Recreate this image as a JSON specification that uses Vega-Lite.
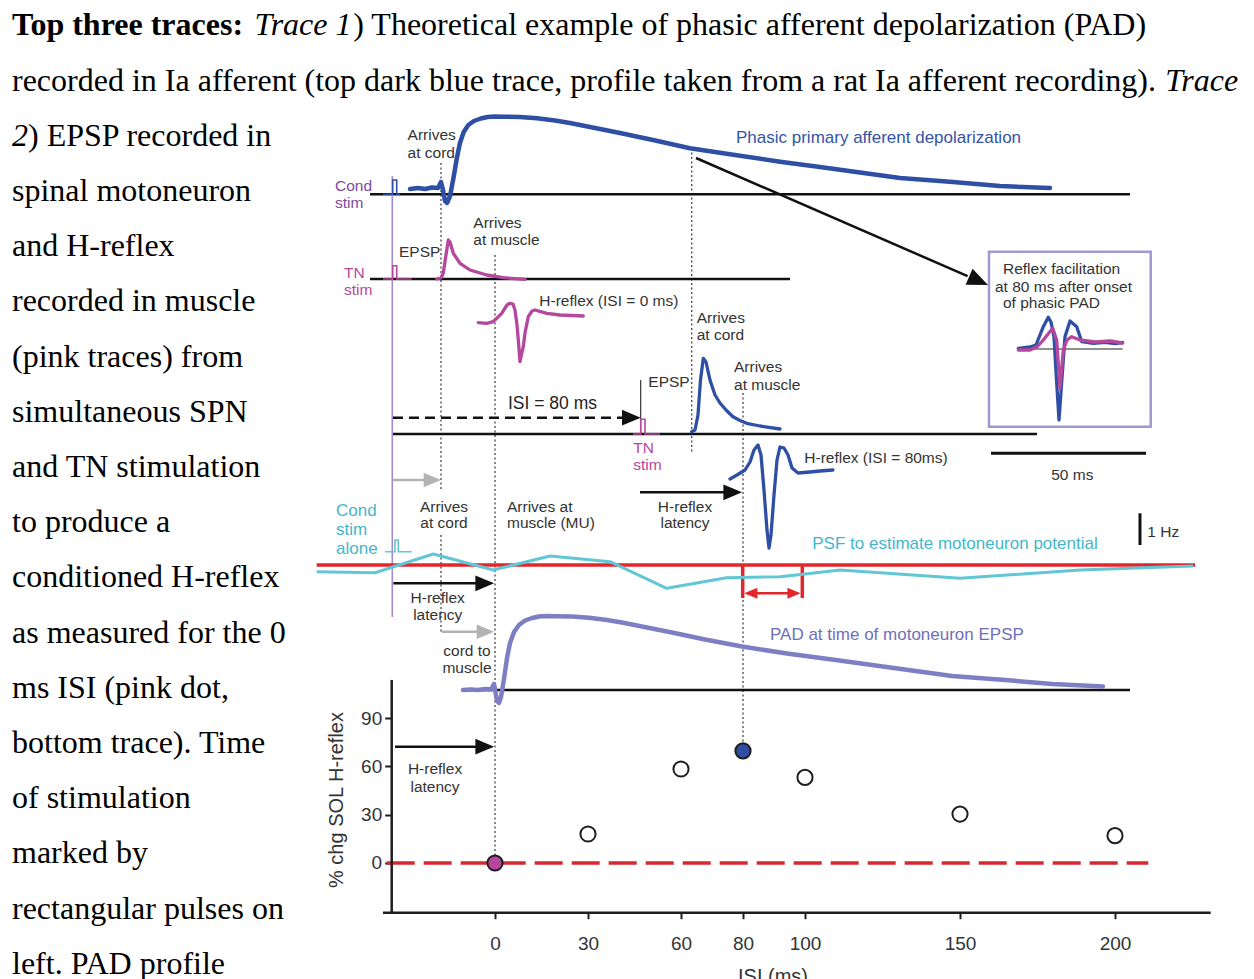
{
  "$schema": "https://vega.github.io/schema/vega-lite/v6.json",
  "width": 1254,
  "height": 979,
  "autosize": {"type": "none"},
  "padding": 0,
  "background": "#ffffff",
  "config": {"view": {"stroke": null}},
  "datasets": {
    "para": [
      {"line": 0, "x": 0, "text": "Top three traces:", "style": "b"},
      {"line": 0, "x": 0.19346, "text": "Trace 1", "style": "i"},
      {"line": 0, "x": 0.27214, "text": ") Theoretical example of phasic afferent depolarization (PAD)", "style": "r"},
      {"line": 1, "x": 0, "text": "recorded in Ia afferent (top dark blue trace, profile taken from a rat Ia afferent recording).", "style": "r"},
      {"line": 1, "x": 0.9197, "text": "Trace", "style": "i"},
      {"line": 2, "x": 0, "text": "2", "style": "i"},
      {"line": 2, "x": 0.01276, "text": ") EPSP recorded in", "style": "r"},
      {"line": 3, "x": 0, "text": "spinal motoneuron", "style": "r"},
      {"line": 4, "x": 0, "text": "and H-reflex", "style": "r"},
      {"line": 5, "x": 0, "text": "recorded in muscle", "style": "r"},
      {"line": 6, "x": 0, "text": "(pink traces) from", "style": "r"},
      {"line": 7, "x": 0, "text": "simultaneous SPN", "style": "r"},
      {"line": 8, "x": 0, "text": "and TN stimulation", "style": "r"},
      {"line": 9, "x": 0, "text": "to produce a", "style": "r"},
      {"line": 10, "x": 0, "text": "conditioned H-reflex", "style": "r"},
      {"line": 11, "x": 0, "text": "as measured for the 0", "style": "r"},
      {"line": 12, "x": 0, "text": "ms ISI (pink dot,", "style": "r"},
      {"line": 13, "x": 0, "text": "bottom trace). Time", "style": "r"},
      {"line": 14, "x": 0, "text": "of stimulation", "style": "r"},
      {"line": 15, "x": 0, "text": "marked by", "style": "r"},
      {"line": 16, "x": 0, "text": "rectangular pulses on", "style": "r"},
      {"line": 17, "x": 0, "text": "left. PAD profile", "style": "r"}
    ],
    "traces": [
      {"s": "pad1", "t": -27.42, "u": 79.0}, {"s": "pad1", "t": -24.84, "u": 79.1}, {"s": "pad1", "t": -22.58, "u": 79.0},
      {"s": "pad1", "t": -20.32, "u": 79.15}, {"s": "pad1", "t": -18.39, "u": 79.1}, {"s": "pad1", "t": -17.42, "u": 79.7},
      {"s": "pad1", "t": -16.77, "u": 78.9}, {"s": "pad1", "t": -16.13, "u": 77.8}, {"s": "pad1", "t": -15.48, "u": 77.6},
      {"s": "pad1", "t": -14.5, "u": 78.3}, {"s": "pad1", "t": -13.4, "u": 80.1}, {"s": "pad1", "t": -12.3, "u": 82.1},
      {"s": "pad1", "t": -11.3, "u": 83.6}, {"s": "pad1", "t": -10.1, "u": 84.7}, {"s": "pad1", "t": -8.6, "u": 85.4},
      {"s": "pad1", "t": -6.8, "u": 85.8}, {"s": "pad1", "t": -4.6, "u": 86.05}, {"s": "pad1", "t": -2.4, "u": 86.2},
      {"s": "pad1", "t": 0, "u": 86.25}, {"s": "pad1", "t": 2.58, "u": 86.23}, {"s": "pad1", "t": 8.06, "u": 86.2},
      {"s": "pad1", "t": 13.55, "u": 86.07}, {"s": "pad1", "t": 19.35, "u": 85.85}, {"s": "pad1", "t": 24.19, "u": 85.6},
      {"s": "pad1", "t": 32.26, "u": 85.1}, {"s": "pad1", "t": 40.32, "u": 84.6}, {"s": "pad1", "t": 50.97, "u": 83.9},
      {"s": "pad1", "t": 62.9, "u": 83.07}, {"s": "pad1", "t": 77.42, "u": 82.4}, {"s": "pad1", "t": 91.94, "u": 81.73},
      {"s": "pad1", "t": 104.84, "u": 81.2}, {"s": "pad1", "t": 117.74, "u": 80.65}, {"s": "pad1", "t": 130.65, "u": 80.1},
      {"s": "pad1", "t": 146.77, "u": 79.73}, {"s": "pad1", "t": 162.9, "u": 79.3}, {"s": "pad1", "t": 179.03, "u": 79.1},

      {"s": "epsp0", "t": -18.81, "u": 70.0}, {"s": "epsp0", "t": -17.42, "u": 70.1}, {"s": "epsp0", "t": -16.68, "u": 70.6},
      {"s": "epsp0", "t": -15.81, "u": 72.4}, {"s": "epsp0", "t": -15.06, "u": 73.9}, {"s": "epsp0", "t": -14.52, "u": 73.7},
      {"s": "epsp0", "t": -13.45, "u": 72.57}, {"s": "epsp0", "t": -11.29, "u": 71.57}, {"s": "epsp0", "t": -8.06, "u": 70.9},
      {"s": "epsp0", "t": -2.68, "u": 70.4}, {"s": "epsp0", "t": 2.68, "u": 70.13}, {"s": "epsp0", "t": 9.68, "u": 69.97},

      {"s": "h0", "t": -5.39, "u": 65.63}, {"s": "h0", "t": -2.68, "u": 65.57}, {"s": "h0", "t": -0.55, "u": 65.73},
      {"s": "h0", "t": 2.16, "u": 66.57}, {"s": "h0", "t": 3.87, "u": 67.4}, {"s": "h0", "t": 4.84, "u": 67.57},
      {"s": "h0", "t": 5.81, "u": 67.5}, {"s": "h0", "t": 6.45, "u": 66.9}, {"s": "h0", "t": 7.1, "u": 65.4},
      {"s": "h0", "t": 7.52, "u": 63.9}, {"s": "h0", "t": 8.06, "u": 61.73}, {"s": "h0", "t": 8.71, "u": 62.7},
      {"s": "h0", "t": 9.13, "u": 63.23}, {"s": "h0", "t": 9.68, "u": 64.6}, {"s": "h0", "t": 10.74, "u": 66.23},
      {"s": "h0", "t": 11.94, "u": 66.8}, {"s": "h0", "t": 12.9, "u": 66.9}, {"s": "h0", "t": 16.68, "u": 66.57},
      {"s": "h0", "t": 20.97, "u": 66.4}, {"s": "h0", "t": 24.84, "u": 66.35}, {"s": "h0", "t": 28.48, "u": 66.3},

      {"s": "epsp80", "t": 63.45, "u": 54.73}, {"s": "epsp80", "t": 64.52, "u": 54.9}, {"s": "epsp80", "t": 65.48, "u": 56.4},
      {"s": "epsp80", "t": 66.29, "u": 59.9}, {"s": "epsp80", "t": 67.19, "u": 62.07}, {"s": "epsp80", "t": 68.06, "u": 61.7},
      {"s": "epsp80", "t": 69.35, "u": 59.9}, {"s": "epsp80", "t": 70.97, "u": 58.4}, {"s": "epsp80", "t": 72.58, "u": 57.6},
      {"s": "epsp80", "t": 74.52, "u": 56.9}, {"s": "epsp80", "t": 76.77, "u": 56.23}, {"s": "epsp80", "t": 79.03, "u": 55.85},
      {"s": "epsp80", "t": 81.19, "u": 55.57}, {"s": "epsp80", "t": 85.48, "u": 55.3}, {"s": "epsp80", "t": 91.94, "u": 55.0},

      {"s": "h80", "t": 75.81, "u": 50.0}, {"s": "h80", "t": 78.06, "u": 50.4}, {"s": "h80", "t": 80.65, "u": 50.9},
      {"s": "h80", "t": 82.26, "u": 51.7}, {"s": "h80", "t": 83.55, "u": 52.9}, {"s": "h80", "t": 84.84, "u": 53.4},
      {"s": "h80", "t": 85.81, "u": 52.4}, {"s": "h80", "t": 86.77, "u": 48.9}, {"s": "h80", "t": 87.74, "u": 44.9},
      {"s": "h80", "t": 88.39, "u": 43.1}, {"s": "h80", "t": 89.03, "u": 44.4}, {"s": "h80", "t": 90.0, "u": 48.4},
      {"s": "h80", "t": 90.97, "u": 51.9}, {"s": "h80", "t": 91.94, "u": 53.2}, {"s": "h80", "t": 93.23, "u": 53.1},
      {"s": "h80", "t": 94.52, "u": 52.4}, {"s": "h80", "t": 95.81, "u": 51.1}, {"s": "h80", "t": 97.74, "u": 50.6},
      {"s": "h80", "t": 101.61, "u": 50.7}, {"s": "h80", "t": 104.84, "u": 50.8}, {"s": "h80", "t": 109.03, "u": 50.9},

      {"s": "inB", "t": 168.81, "u": 63.07}, {"s": "inB", "t": 172.58, "u": 63.2}, {"s": "inB", "t": 174.52, "u": 63.4},
      {"s": "inB", "t": 176.87, "u": 65.23}, {"s": "inB", "t": 178.48, "u": 66.17}, {"s": "inB", "t": 179.35, "u": 65.7},
      {"s": "inB", "t": 180.32, "u": 64.23}, {"s": "inB", "t": 181.13, "u": 59.9}, {"s": "inB", "t": 181.94, "u": 55.9},
      {"s": "inB", "t": 182.74, "u": 59.4}, {"s": "inB", "t": 183.87, "u": 64.23}, {"s": "inB", "t": 185.48, "u": 65.8},
      {"s": "inB", "t": 187.65, "u": 65.23}, {"s": "inB", "t": 189.26, "u": 63.73}, {"s": "inB", "t": 193.0, "u": 63.57},
      {"s": "inB", "t": 196.77, "u": 63.67}, {"s": "inB", "t": 200.0, "u": 63.55}, {"s": "inB", "t": 202.48, "u": 63.65},

      {"s": "inP", "t": 168.81, "u": 62.9}, {"s": "inP", "t": 172.58, "u": 62.9}, {"s": "inP", "t": 174.84, "u": 63.2},
      {"s": "inP", "t": 176.87, "u": 63.9}, {"s": "inP", "t": 179.9, "u": 65.07}, {"s": "inP", "t": 181.19, "u": 63.9},
      {"s": "inP", "t": 182.26, "u": 59.07}, {"s": "inP", "t": 183.32, "u": 62.9}, {"s": "inP", "t": 184.52, "u": 63.9},
      {"s": "inP", "t": 186.03, "u": 64.23}, {"s": "inP", "t": 188.71, "u": 63.9}, {"s": "inP", "t": 193.55, "u": 63.7},
      {"s": "inP", "t": 198.39, "u": 63.8}, {"s": "inP", "t": 202.48, "u": 63.6},

      {"s": "pad2", "t": -10.32, "u": 28.9}, {"s": "pad2", "t": -7.74, "u": 28.95}, {"s": "pad2", "t": -5.48, "u": 28.9},
      {"s": "pad2", "t": -3.23, "u": 29.0}, {"s": "pad2", "t": -1.29, "u": 28.95}, {"s": "pad2", "t": -0.32, "u": 29.5},
      {"s": "pad2", "t": 0.16, "u": 28.7}, {"s": "pad2", "t": 0.65, "u": 27.8}, {"s": "pad2", "t": 1.29, "u": 27.6},
      {"s": "pad2", "t": 1.94, "u": 28.2}, {"s": "pad2", "t": 2.9, "u": 30.0}, {"s": "pad2", "t": 3.87, "u": 32.1},
      {"s": "pad2", "t": 4.84, "u": 33.6}, {"s": "pad2", "t": 6.13, "u": 34.7}, {"s": "pad2", "t": 7.74, "u": 35.4},
      {"s": "pad2", "t": 9.68, "u": 35.85}, {"s": "pad2", "t": 11.94, "u": 36.1}, {"s": "pad2", "t": 14.19, "u": 36.25},
      {"s": "pad2", "t": 16.77, "u": 36.3}, {"s": "pad2", "t": 19.35, "u": 36.28}, {"s": "pad2", "t": 24.84, "u": 36.25},
      {"s": "pad2", "t": 30.32, "u": 36.12}, {"s": "pad2", "t": 36.13, "u": 35.9}, {"s": "pad2", "t": 40.97, "u": 35.65},
      {"s": "pad2", "t": 49.03, "u": 35.15}, {"s": "pad2", "t": 57.1, "u": 34.65}, {"s": "pad2", "t": 67.74, "u": 33.95},
      {"s": "pad2", "t": 79.68, "u": 33.25}, {"s": "pad2", "t": 94.19, "u": 32.55}, {"s": "pad2", "t": 108.71, "u": 31.95},
      {"s": "pad2", "t": 121.61, "u": 31.4}, {"s": "pad2", "t": 134.52, "u": 30.85}, {"s": "pad2", "t": 147.42, "u": 30.3},
      {"s": "pad2", "t": 163.55, "u": 29.93}, {"s": "pad2", "t": 179.68, "u": 29.5}, {"s": "pad2", "t": 196.13, "u": 29.25},

      {"s": "psf", "t": -57.52, "u": 40.73}, {"s": "psf", "t": -38.71, "u": 40.63}, {"s": "psf", "t": -19.9, "u": 42.5},
      {"s": "psf", "t": -0.55, "u": 40.9}, {"s": "psf", "t": 17.74, "u": 42.3}, {"s": "psf", "t": 37.1, "u": 41.73},
      {"s": "psf", "t": 55.39, "u": 39.07}, {"s": "psf", "t": 74.74, "u": 40.13}, {"s": "psf", "t": 91.94, "u": 40.23},
      {"s": "psf", "t": 99.45, "u": 40.47}, {"s": "psf", "t": 111.29, "u": 40.9}, {"s": "psf", "t": 150.0, "u": 40.07},
      {"s": "psf", "t": 188.71, "u": 40.9}, {"s": "psf", "t": 225.26, "u": 41.3},

      {"s": "pC", "t": -36.13, "u": 78.47}, {"s": "pC", "t": -33.0, "u": 78.47}, {"s": "pC", "t": -33.0, "u": 79.9},
      {"s": "pC", "t": -31.71, "u": 79.9}, {"s": "pC", "t": -31.71, "u": 78.47}, {"s": "pC", "t": -30.65, "u": 78.47},
      {"s": "pT0", "t": -36.13, "u": 70.0}, {"s": "pT0", "t": -33.0, "u": 70.0}, {"s": "pT0", "t": -33.0, "u": 71.33},
      {"s": "pT0", "t": -31.71, "u": 71.33}, {"s": "pT0", "t": -31.71, "u": 70.0}, {"s": "pT0", "t": -26.87, "u": 70.0},
      {"s": "pT80", "t": 44.52, "u": 54.5}, {"s": "pT80", "t": 47.0, "u": 54.5}, {"s": "pT80", "t": 47.0, "u": 55.97},
      {"s": "pT80", "t": 48.39, "u": 55.97}, {"s": "pT80", "t": 48.39, "u": 54.5}, {"s": "pT80", "t": 53.23, "u": 54.5},
      {"s": "pA", "t": -35.48, "u": 42.73}, {"s": "pA", "t": -32.26, "u": 42.73}, {"s": "pA", "t": -32.26, "u": 43.9},
      {"s": "pA", "t": -31.19, "u": 43.9}, {"s": "pA", "t": -31.19, "u": 42.73}, {"s": "pA", "t": -26.87, "u": 42.73}
    ],
    "segs": [
      {"kind": "base", "t": -40.32, "t2": 204.84, "u": 78.47, "u2": 78.47},
      {"kind": "base", "t": -40.32, "t2": 95.16, "u": 70.0, "u2": 70.0},
      {"kind": "base", "t": -33.0, "t2": 174.84, "u": 54.5, "u2": 54.5},
      {"kind": "base", "t": -10.32, "t2": 204.84, "u": 28.9, "u2": 28.9},
      {"kind": "dot", "t": -17.42, "t2": -17.42, "u": 81.6, "u2": 48.9},
      {"kind": "dot", "t": -17.42, "t2": -17.42, "u": 44.4, "u2": 34.7},
      {"kind": "dot", "t": 0, "t2": 0, "u": 72.4, "u2": 12.4},
      {"kind": "dot", "t": 63.45, "t2": 63.45, "u": 83.1, "u2": 52.6},
      {"kind": "dot", "t": 80, "t2": 80, "u": 58.6, "u2": 23.7},
      {"kind": "stim", "t": -33.13, "t2": -33.13, "u": 80.3, "u2": 36.2},
      {"kind": "mark", "t": 47.0, "t2": 47.0, "u": 59.9, "u2": 54.5},
      {"kind": "bar", "t": 160, "t2": 210, "u": 52.57, "u2": 52.57},
      {"kind": "bar", "t": 208.06, "t2": 208.06, "u": 46.57, "u2": 43.4},
      {"kind": "thin", "t": 173.55, "t2": 202.48, "u": 63.0, "u2": 63.0},
      {"kind": "red", "t": -57.52, "t2": 225.81, "u": 41.4, "u2": 41.4},
      {"kind": "red", "t": 79.9, "t2": 79.9, "u": 41.4, "u2": 38.1},
      {"kind": "red", "t": 99.13, "t2": 99.13, "u": 41.4, "u2": 38.1},
      {"kind": "redarrow", "t": 81.5, "t2": 97.5, "u": 38.57, "u2": 38.57},
      {"kind": "dash", "t": -32.9, "t2": 43.0, "u": 56.13, "u2": 56.13},
      {"kind": "arrow", "t": 46.77, "t2": 75.0, "u": 48.67, "u2": 48.67},
      {"kind": "arrow", "t": -32.81, "t2": -4.5, "u": 39.57, "u2": 39.57},
      {"kind": "arrow", "t": -32.26, "t2": -4.5, "u": 23.23, "u2": 23.23},
      {"kind": "arrow", "t": 64.84, "t2": 152.45, "u": 82.1, "u2": 70.29},
      {"kind": "gray", "t": -33.0, "t2": -21.0, "u": 49.9, "u2": 49.9},
      {"kind": "gray", "t": -17.19, "t2": -4.0, "u": 34.73, "u2": 34.73}
    ],
    "box": [{"t": 159.35, "t2": 211.52, "u": 72.73, "u2": 55.23}],
    "heads": [
      {"kind": "black", "dir": "r", "t": 47.0, "u": 56.13},
      {"kind": "black", "dir": "r", "t": 79.7, "u": 48.67},
      {"kind": "black", "dir": "r", "t": -0.3, "u": 39.57},
      {"kind": "black", "dir": "r", "t": -0.3, "u": 23.23},
      {"kind": "black", "dir": "d", "t": 159.03, "u": 69.4},
      {"kind": "gray", "dir": "r", "t": -17.42, "u": 49.9},
      {"kind": "gray", "dir": "r", "t": -0.3, "u": 34.73},
      {"kind": "red", "dir": "r", "t": 98.6, "u": 38.57},
      {"kind": "red", "dir": "l", "t": 80.4, "u": 38.57}
    ],
    "labels": [
      {"kind": "n", "t": -28.2, "u": 84.4, "text": "Arrives"},
      {"kind": "n", "t": -28.2, "u": 82.63, "text": "at cord"},
      {"kind": "n", "t": -30.97, "u": 72.73, "text": "EPSP"},
      {"kind": "n", "t": -7.0, "u": 75.57, "text": "Arrives"},
      {"kind": "n", "t": -7.0, "u": 73.9, "text": "at muscle"},
      {"kind": "n", "t": 14.29, "u": 67.83, "text": "H-reflex (ISI = 0 ms)"},
      {"kind": "n", "t": 65.06, "u": 66.07, "text": "Arrives"},
      {"kind": "n", "t": 65.06, "u": 64.4, "text": "at cord"},
      {"kind": "n", "t": 77.1, "u": 61.17, "text": "Arrives"},
      {"kind": "n", "t": 77.1, "u": 59.4, "text": "at muscle"},
      {"kind": "n", "t": 49.45, "u": 59.73, "text": "EPSP"},
      {"kind": "n", "t": 99.77, "u": 52.13, "text": "H-reflex (ISI = 80ms)"},
      {"kind": "n", "t": 3.87, "u": 47.23, "text": "Arrives at"},
      {"kind": "n", "t": 3.87, "u": 45.57, "text": "muscle (MU)"},
      {"kind": "n", "t": 210.42, "u": 44.73, "text": "1 Hz"},
      {"kind": "n", "t": 163.87, "u": 71.0, "text": "Reflex facilitation"},
      {"kind": "n", "t": 161.29, "u": 69.23, "text": "at 80 ms after onset"},
      {"kind": "n", "t": 163.87, "u": 67.6, "text": "of phasic PAD"},
      {"kind": "c", "t": 186.23, "u": 50.4, "text": "50 ms"},
      {"kind": "c", "t": -16.45, "u": 47.23, "text": "Arrives"},
      {"kind": "c", "t": -16.45, "u": 45.57, "text": "at cord"},
      {"kind": "c", "t": 61.29, "u": 47.23, "text": "H-reflex"},
      {"kind": "c", "t": 61.29, "u": 45.57, "text": "latency"},
      {"kind": "c", "t": -18.48, "u": 38.13, "text": "H-reflex"},
      {"kind": "c", "t": -18.48, "u": 36.4, "text": "latency"},
      {"kind": "c", "t": -9.03, "u": 32.83, "text": "cord to"},
      {"kind": "c", "t": -9.03, "u": 31.07, "text": "muscle"},
      {"kind": "c", "t": -19.35, "u": 21.0, "text": "H-reflex"},
      {"kind": "c", "t": -19.35, "u": 19.23, "text": "latency"},
      {"kind": "b", "t": 4.19, "u": 57.5, "text": "ISI = 80 ms"},
      {"kind": "p", "t": -51.61, "u": 79.3, "text": "Cond"},
      {"kind": "p", "t": -51.61, "u": 77.63, "text": "stim"},
      {"kind": "k", "t": -48.71, "u": 70.57, "text": "TN"},
      {"kind": "k", "t": -48.71, "u": 68.9, "text": "stim"},
      {"kind": "k", "t": 44.61, "u": 53.07, "text": "TN"},
      {"kind": "k", "t": 44.61, "u": 51.4, "text": "stim"},
      {"kind": "h", "t": 77.74, "u": 84.1, "text": "Phasic primary afferent depolarization"},
      {"kind": "y", "t": -51.29, "u": 46.8, "text": "Cond"},
      {"kind": "y", "t": -51.29, "u": 44.9, "text": "stim"},
      {"kind": "y", "t": -51.29, "u": 42.97, "text": "alone"},
      {"kind": "y", "t": 102.35, "u": 43.5, "text": "PSF to estimate motoneuron potential"},
      {"kind": "l", "t": 88.71, "u": 34.4, "text": "PAD at time of motoneuron EPSP"}
    ],
    "isi": [
      {"isi": 0, "pct": 0, "kind": "c0"},
      {"isi": 30, "pct": 18, "kind": "o"},
      {"isi": 60, "pct": 58.4, "kind": "o"},
      {"isi": 80, "pct": 69.6, "kind": "c80"},
      {"isi": 100, "pct": 53.2, "kind": "o"},
      {"isi": 150, "pct": 30.4, "kind": "o"},
      {"isi": 200, "pct": 17, "kind": "o"}
    ],
    "guides": [
      {"kind": "zero", "isi": -34.94, "isi2": 210.74, "pct": 0, "pct2": 0},
      {"kind": "axis", "isi": -36.13, "isi2": 230.87, "pct": -30.9, "pct2": -30.9},
      {"kind": "axis", "isi": -33.32, "isi2": -33.32, "pct": -30.9, "pct2": 113.7}
    ],
    "axtitles": [
      {"kind": "y", "isi": -51.06, "pct": 39.13, "text": "% chg SOL H-reflex"},
      {"kind": "x", "isi": 89.68, "pct": -64.3, "text": "ISI (ms)"}
    ]
  },
  "layer": [
    {
      "data": {"name": "para"},
      "encoding": {
        "x": {"field": "x", "type": "quantitative", "scale": {"domain": [-0.00957, 0.99043], "nice": false, "zero": false}, "axis": null},
        "y": {"field": "line", "type": "quantitative", "scale": {"domain": [-0.6431, 17.0924], "reverse": true, "nice": false, "zero": false}, "axis": null},
        "text": {"field": "text"}
      },
      "layer": [
        {"transform": [{"filter": "datum.style === 'r'"}], "mark": {"type": "text", "align": "left", "baseline": "alphabetic", "font": "Liberation Serif", "fontSize": 32, "color": "#000000"}},
        {"transform": [{"filter": "datum.style === 'b'"}], "mark": {"type": "text", "align": "left", "baseline": "alphabetic", "font": "Liberation Serif", "fontSize": 32, "fontWeight": "bold", "color": "#000000"}},
        {"transform": [{"filter": "datum.style === 'i'"}], "mark": {"type": "text", "align": "left", "baseline": "alphabetic", "font": "Liberation Serif", "fontSize": 32, "fontStyle": "italic", "color": "#000000"}}
      ]
    },
    {
      "encoding": {
        "x": {"field": "t", "type": "quantitative", "scale": {"domain": [-159.677, 244.839], "nice": false, "zero": false}, "axis": null},
        "y": {"field": "u", "type": "quantitative", "scale": {"domain": [0, 97.9], "nice": false, "zero": false}, "axis": null}
      },
      "layer": [
        {"data": {"name": "box"}, "mark": {"type": "rect", "fill": "#ffffff", "stroke": "#9e9ad0", "strokeWidth": 2.5}, "encoding": {"x2": {"field": "t2"}, "y2": {"field": "u2"}}},
        {"data": {"name": "segs"}, "transform": [{"filter": "datum.kind === 'dot'"}], "mark": {"type": "rule", "color": "#444444", "strokeWidth": 1.3, "strokeDash": [2, 2.5]}, "encoding": {"x2": {"field": "t2"}, "y2": {"field": "u2"}}},
        {"data": {"name": "segs"}, "transform": [{"filter": "datum.kind === 'base' || datum.kind === 'arrow'"}], "mark": {"type": "rule", "color": "#111111", "strokeWidth": 2.5}, "encoding": {"x2": {"field": "t2"}, "y2": {"field": "u2"}}},
        {"data": {"name": "segs"}, "transform": [{"filter": "datum.kind === 'bar'"}], "mark": {"type": "rule", "color": "#111111", "strokeWidth": 3}, "encoding": {"x2": {"field": "t2"}, "y2": {"field": "u2"}}},
        {"data": {"name": "segs"}, "transform": [{"filter": "datum.kind === 'thin' || datum.kind === 'mark'"}], "mark": {"type": "rule", "color": "#222222", "strokeWidth": 1.1}, "encoding": {"x2": {"field": "t2"}, "y2": {"field": "u2"}}},
        {"data": {"name": "segs"}, "transform": [{"filter": "datum.kind === 'stim'"}], "mark": {"type": "rule", "color": "#a48bc9", "strokeWidth": 1.6}, "encoding": {"x2": {"field": "t2"}, "y2": {"field": "u2"}}},
        {"data": {"name": "segs"}, "transform": [{"filter": "datum.kind === 'dash'"}], "mark": {"type": "rule", "color": "#111111", "strokeWidth": 2.5, "strokeDash": [10, 6]}, "encoding": {"x2": {"field": "t2"}, "y2": {"field": "u2"}}},
        {"data": {"name": "segs"}, "transform": [{"filter": "datum.kind === 'gray'"}], "mark": {"type": "rule", "color": "#b3b3b3", "strokeWidth": 2.5}, "encoding": {"x2": {"field": "t2"}, "y2": {"field": "u2"}}},
        {"data": {"name": "segs"}, "transform": [{"filter": "datum.kind === 'red'"}], "mark": {"type": "rule", "color": "#e3262b", "strokeWidth": 3.5}, "encoding": {"x2": {"field": "t2"}, "y2": {"field": "u2"}}},
        {"data": {"name": "segs"}, "transform": [{"filter": "datum.kind === 'redarrow'"}], "mark": {"type": "rule", "color": "#e3262b", "strokeWidth": 2.5}, "encoding": {"x2": {"field": "t2"}, "y2": {"field": "u2"}}},
        {
          "data": {"name": "traces"},
          "transform": [{"filter": {"field": "s", "oneOf": ["pC", "pT0", "pT80", "pA"]}}],
          "mark": {"type": "line", "strokeWidth": 1.6, "strokeJoin": "miter"},
          "encoding": {
            "detail": {"field": "s"},
            "order": {"value": null},
            "color": {"field": "s", "type": "nominal", "legend": null, "scale": {"domain": ["pad1", "epsp80", "h80", "inB", "pC", "epsp0", "h0", "inP", "pT0", "pT80", "pad2", "psf", "pA"], "range": ["#2e4fa3", "#2e4fa3", "#2e4fa3", "#2e4fa3", "#2e4fa3", "#b5479d", "#b5479d", "#b5479d", "#b5479d", "#b5479d", "#7e7ec4", "#62c6d4", "#62c6d4"]}}
          }
        },
        {
          "data": {"name": "traces"},
          "transform": [{"filter": {"field": "s", "oneOf": ["psf"]}}],
          "mark": {"type": "line", "strokeWidth": 3, "strokeJoin": "round"},
          "encoding": {
            "detail": {"field": "s"},
            "order": {"value": null},
            "color": {"field": "s", "type": "nominal", "legend": null, "scale": {"domain": ["pad1", "epsp80", "h80", "inB", "pC", "epsp0", "h0", "inP", "pT0", "pT80", "pad2", "psf", "pA"], "range": ["#2e4fa3", "#2e4fa3", "#2e4fa3", "#2e4fa3", "#2e4fa3", "#b5479d", "#b5479d", "#b5479d", "#b5479d", "#b5479d", "#7e7ec4", "#62c6d4", "#62c6d4"]}}
          }
        },
        {
          "data": {"name": "traces"},
          "transform": [{"filter": {"field": "s", "oneOf": ["pad1", "pad2"]}}],
          "mark": {"type": "line", "strokeWidth": 4.5, "strokeJoin": "round", "strokeCap": "round"},
          "encoding": {
            "detail": {"field": "s"},
            "order": {"value": null},
            "color": {"field": "s", "type": "nominal", "legend": null, "scale": {"domain": ["pad1", "epsp80", "h80", "inB", "pC", "epsp0", "h0", "inP", "pT0", "pT80", "pad2", "psf", "pA"], "range": ["#2e4fa3", "#2e4fa3", "#2e4fa3", "#2e4fa3", "#2e4fa3", "#b5479d", "#b5479d", "#b5479d", "#b5479d", "#b5479d", "#7e7ec4", "#62c6d4", "#62c6d4"]}}
          }
        },
        {
          "data": {"name": "traces"},
          "transform": [{"filter": {"field": "s", "oneOf": ["epsp80", "h80", "inB", "epsp0", "h0", "inP"]}}],
          "mark": {"type": "line", "strokeWidth": 3.3, "strokeJoin": "round", "strokeCap": "round"},
          "encoding": {
            "detail": {"field": "s"},
            "order": {"value": null},
            "color": {"field": "s", "type": "nominal", "legend": null, "scale": {"domain": ["pad1", "epsp80", "h80", "inB", "pC", "epsp0", "h0", "inP", "pT0", "pT80", "pad2", "psf", "pA"], "range": ["#2e4fa3", "#2e4fa3", "#2e4fa3", "#2e4fa3", "#2e4fa3", "#b5479d", "#b5479d", "#b5479d", "#b5479d", "#b5479d", "#7e7ec4", "#62c6d4", "#62c6d4"]}}
          }
        },
        {"data": {"name": "heads"}, "transform": [{"filter": "datum.kind === 'black' && datum.dir === 'r'"}], "mark": {"type": "point", "shape": "M0,0L-1,-0.42L-1,0.42Z", "filled": true, "color": "#111111", "opacity": 1, "size": 1400}},
        {"data": {"name": "heads"}, "transform": [{"filter": "datum.kind === 'black' && datum.dir === 'd'"}], "mark": {"type": "point", "shape": "M0,0L-1,-0.42L-1,0.42Z", "filled": true, "color": "#111111", "opacity": 1, "size": 1700, "angle": 23.5}},
        {"data": {"name": "heads"}, "transform": [{"filter": "datum.kind === 'gray'"}], "mark": {"type": "point", "shape": "M0,0L-1,-0.42L-1,0.42Z", "filled": true, "color": "#b3b3b3", "opacity": 1, "size": 1200}},
        {"data": {"name": "heads"}, "transform": [{"filter": "datum.kind === 'red' && datum.dir === 'r'"}], "mark": {"type": "point", "shape": "M0,0L-1,-0.42L-1,0.42Z", "filled": true, "color": "#e3262b", "opacity": 1, "size": 700}},
        {"data": {"name": "heads"}, "transform": [{"filter": "datum.kind === 'red' && datum.dir === 'l'"}], "mark": {"type": "point", "shape": "M0,0L-1,-0.42L-1,0.42Z", "filled": true, "color": "#e3262b", "opacity": 1, "size": 700, "angle": 180}},
        {"data": {"name": "labels"}, "transform": [{"filter": "datum.kind === 'n'"}], "mark": {"type": "text", "align": "left", "baseline": "middle", "font": "Liberation Sans", "fontSize": 15.5, "color": "#333333"}, "encoding": {"text": {"field": "text"}}},
        {"data": {"name": "labels"}, "transform": [{"filter": "datum.kind === 'c'"}], "mark": {"type": "text", "align": "center", "baseline": "middle", "font": "Liberation Sans", "fontSize": 15.5, "color": "#333333"}, "encoding": {"text": {"field": "text"}}},
        {"data": {"name": "labels"}, "transform": [{"filter": "datum.kind === 'b'"}], "mark": {"type": "text", "align": "left", "baseline": "middle", "font": "Liberation Sans", "fontSize": 17.5, "color": "#222222"}, "encoding": {"text": {"field": "text"}}},
        {"data": {"name": "labels"}, "transform": [{"filter": "datum.kind === 'p'"}], "mark": {"type": "text", "align": "left", "baseline": "middle", "font": "Liberation Sans", "fontSize": 15.5, "color": "#7b4c9d"}, "encoding": {"text": {"field": "text"}}},
        {"data": {"name": "labels"}, "transform": [{"filter": "datum.kind === 'k'"}], "mark": {"type": "text", "align": "left", "baseline": "middle", "font": "Liberation Sans", "fontSize": 15.5, "color": "#b5479d"}, "encoding": {"text": {"field": "text"}}},
        {"data": {"name": "labels"}, "transform": [{"filter": "datum.kind === 'h'"}], "mark": {"type": "text", "align": "left", "baseline": "middle", "font": "Liberation Sans", "fontSize": 17, "color": "#3553a6"}, "encoding": {"text": {"field": "text"}}},
        {"data": {"name": "labels"}, "transform": [{"filter": "datum.kind === 'y'"}], "mark": {"type": "text", "align": "left", "baseline": "middle", "font": "Liberation Sans", "fontSize": 17, "color": "#45b6c9"}, "encoding": {"text": {"field": "text"}}},
        {"data": {"name": "labels"}, "transform": [{"filter": "datum.kind === 'l'"}], "mark": {"type": "text", "align": "left", "baseline": "middle", "font": "Liberation Sans", "fontSize": 17, "color": "#6f6fb9"}, "encoding": {"text": {"field": "text"}}}
      ]
    },
    {
      "encoding": {
        "x": {
          "field": "isi", "type": "quantitative",
          "scale": {"domain": [-159.677, 244.839], "nice": false, "zero": false},
          "axis": {"values": [0, 30, 60, 80, 100, 150, 200], "offset": -66.3, "domain": false, "grid": false, "ticks": true, "tickSize": 6, "tickWidth": 2, "tickColor": "#1e1e1e", "labelFont": "Liberation Sans", "labelFontSize": 19, "labelColor": "#333333", "labelPadding": 16, "labelFlush": false, "labelOverlap": false, "labelBound": false, "title": null}
        },
        "y": {
          "field": "pct", "type": "quantitative",
          "scale": {"domain": [-72.05, 536.02], "nice": false, "zero": false},
          "axis": {"values": [0, 30, 60, 90], "offset": -391.7, "domain": false, "grid": false, "ticks": true, "tickSize": 7, "tickWidth": 2, "tickColor": "#1e1e1e", "labelFont": "Liberation Sans", "labelFontSize": 19, "labelColor": "#333333", "labelPadding": 3, "labelFlush": false, "labelOverlap": false, "labelBound": false, "title": null}
        }
      },
      "layer": [
        {"data": {"name": "guides"}, "transform": [{"filter": "datum.kind === 'zero'"}], "mark": {"type": "rule", "color": "#d7282f", "strokeWidth": 3.5, "strokeDash": [28, 9]}, "encoding": {"x2": {"field": "isi2"}, "y2": {"field": "pct2"}}},
        {"data": {"name": "guides"}, "transform": [{"filter": "datum.kind === 'axis'"}], "mark": {"type": "rule", "color": "#1e1e1e", "strokeWidth": 2.5}, "encoding": {"x2": {"field": "isi2"}, "y2": {"field": "pct2"}}},
        {
          "data": {"name": "isi"},
          "mark": {"type": "point", "shape": "circle", "size": 230, "strokeWidth": 2, "stroke": "#1e1e1e", "opacity": 1, "fillOpacity": 1},
          "encoding": {"fill": {"field": "kind", "type": "nominal", "legend": null, "scale": {"domain": ["o", "c0", "c80"], "range": ["#ffffff", "#b5479d", "#2e4fa3"]}}}
        },
        {"data": {"name": "axtitles"}, "transform": [{"filter": "datum.kind === 'y'"}], "mark": {"type": "text", "angle": 270, "align": "center", "baseline": "middle", "font": "Liberation Sans", "fontSize": 20, "color": "#333333"}, "encoding": {"text": {"field": "text"}}},
        {"data": {"name": "axtitles"}, "transform": [{"filter": "datum.kind === 'x'"}], "mark": {"type": "text", "align": "center", "baseline": "top", "font": "Liberation Sans", "fontSize": 20, "color": "#333333"}, "encoding": {"text": {"field": "text"}}}
      ]
    }
  ],
  "resolve": {"scale": {"x": "independent", "y": "independent"}, "axis": {"x": "independent", "y": "independent"}}
}
